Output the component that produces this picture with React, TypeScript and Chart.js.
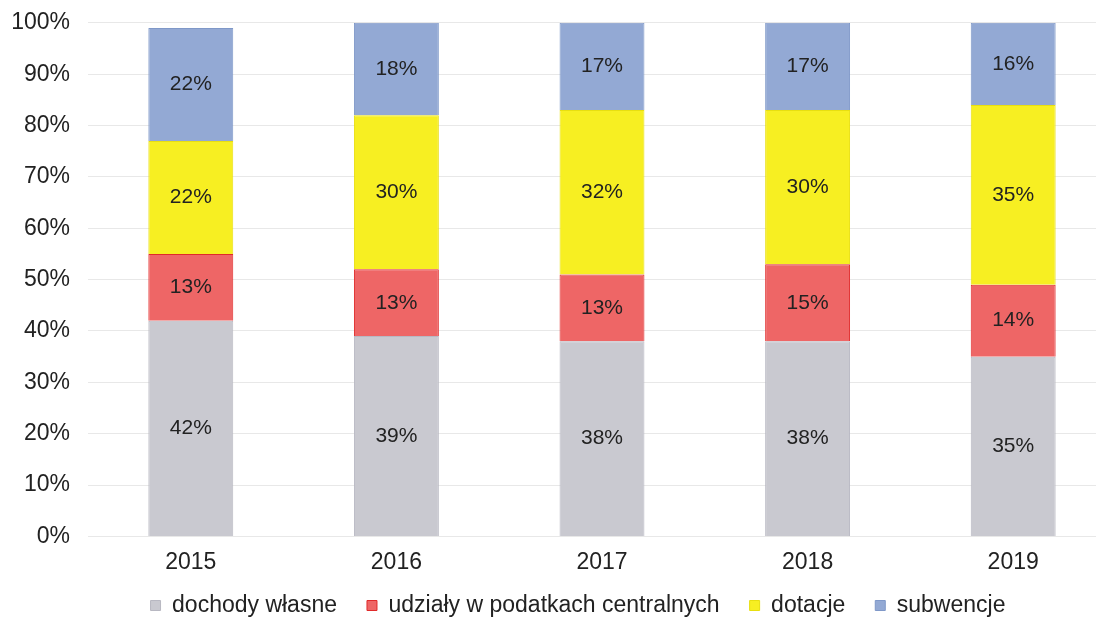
import React, { useEffect, useRef } from "react";
import { Chart, registerables } from "chart.js";

Chart.register(...registerables);

const categories = ["2015", "2016", "2017", "2018", "2019"];
const seriesNames = ["dochody własne", "udziały w podatkach centralnych", "dotacje", "subwencje"];
const dochodyWlasne = [42, 39, 38, 38, 35];
const udzialy = [13, 13, 13, 15, 14];
const dotacje = [22, 30, 32, 30, 35];
const subwencje = [22, 18, 17, 17, 16];
const yTicks = [0, 10, 20, 30, 40, 50, 60, 70, 80, 90, 100];

const fillColors = ["#c9c9d0", "#ee6666", "#f7ef22", "#93a9d4"];
const borderColors = ["#b8b8c2", "#e02a2a", "#e8df10", "#7f98c8"];
const FONT = "'Liberation Sans', Arial, sans-serif";

const labelPlugin = {
  id: "barLabels",
  afterDatasetsDraw(chart: any) {
    const ctx = chart.ctx;
    ctx.save();
    ctx.font = "21px " + FONT;
    ctx.fillStyle = "#222222";
    ctx.textAlign = "center";
    ctx.textBaseline = "middle";
    chart.data.datasets.forEach((ds: any, i: number) => {
      const meta = chart.getDatasetMeta(i);
      meta.data.forEach((el: any, j: number) => {
        const v = ds.data[j];
        const y = (el.y + el.base) / 2;
        ctx.fillText(v + "%", el.x, y);
      });
    });
    ctx.restore();
  },
};

const LEGEND_DX = 14;
const LEGEND_DY = -16;
const legendNudge = {
  id: "legendNudge",
  afterLayout(chart: any) {
    const lg = chart.legend;
    if (!lg) return;
    lg.top += LEGEND_DY;
    lg.bottom += LEGEND_DY;
    lg.left += LEGEND_DX;
    lg.right += LEGEND_DX;
  },
};

const CANVAS_W = 1116;
const CANVAS_H = 652;

export default function App() {
  const ref = useRef<HTMLCanvasElement | null>(null);
  useEffect(() => {
    document.body.style.margin = "0";
    const values = [dochodyWlasne, udzialy, dotacje, subwencje];
    const chart = new Chart(ref.current as HTMLCanvasElement, {
      type: "bar",
      data: {
        labels: categories,
        datasets: values.map((d, i) => ({
          label: seriesNames[i],
          data: d,
          backgroundColor: fillColors[i],
          borderColor: borderColors[i],
          borderWidth: 1,
          categoryPercentage: 1,
          barPercentage: 0.413,
        })),
      },
      options: {
        animation: false,
        responsive: false,
        maintainAspectRatio: false,
        layout: { padding: { left: 12, right: 0, top: 8, bottom: 0 } },
        plugins: {
          legend: {
            position: "bottom",
            labels: {
              boxWidth: 10,
              boxHeight: 10,
              padding: 30,
              color: "#222222",
              font: { size: 23, family: FONT },
            },
          },
          tooltip: { enabled: false },
        },
        scales: {
          x: {
            stacked: true,
            grid: { display: false },
            border: { display: false },
            ticks: {
              color: "#222222",
              padding: 4,
              font: { size: 23, family: FONT },
            },
          },
          y: {
            stacked: true,
            min: 0,
            max: 100,
            afterFit: (s: any) => {
              s.width = 76;
            },
            afterBuildTicks: (axis: any) => {
              axis.ticks = yTicks.map((v) => ({ value: v }));
            },
            grid: { color: "#e8e8e8", drawTicks: false },
            border: { display: false },
            ticks: {
              color: "#222222",
              padding: 18,
              font: { size: 23, family: FONT },
              callback: (v: any) => v + "%",
            },
          },
        },
      },
      plugins: [labelPlugin, legendNudge],
    });
    return () => chart.destroy();
  }, []);
  return (
    <div style={{ width: 1096, height: 621, overflow: "hidden", position: "relative" }}>
      <canvas
        ref={ref}
        width={CANVAS_W}
        height={CANVAS_H}
        style={{ display: "block", position: "absolute", left: 0, top: -9 }}
      />
    </div>
  );
}
